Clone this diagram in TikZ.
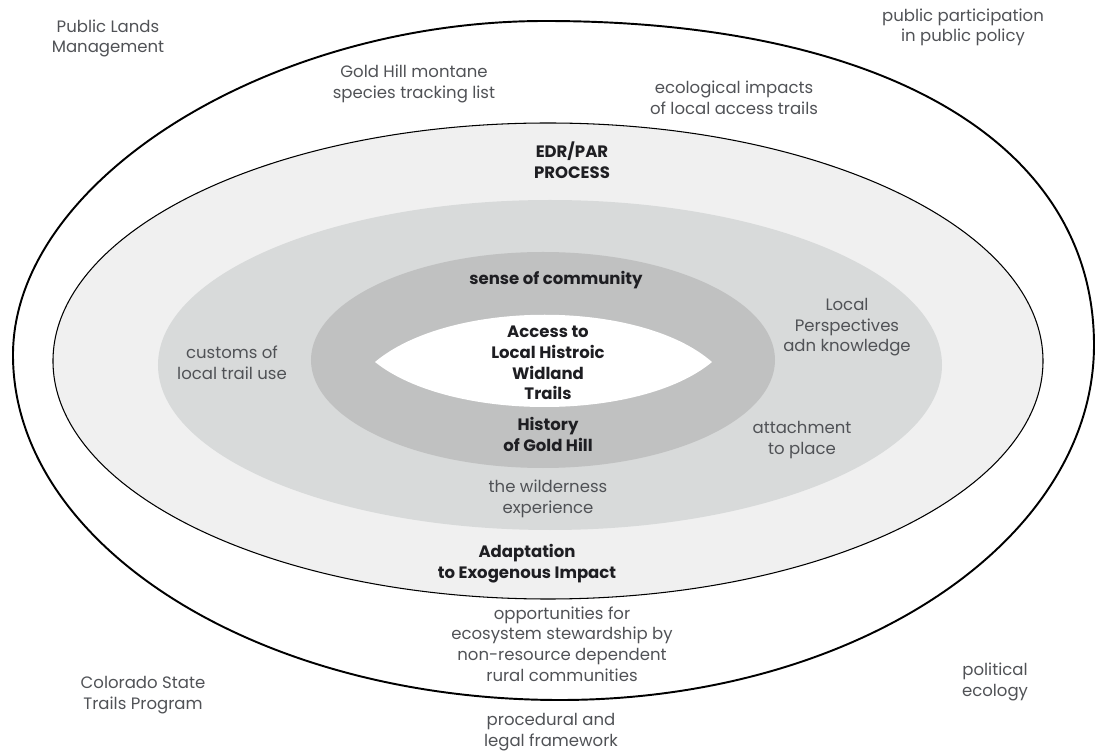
\documentclass[tikz,border=0pt]{standalone}
\usepackage{fontspec}
\setmainfont{Poppins}
\definecolor{ringpale}{RGB}{240, 240, 240}
\definecolor{ringmid}{RGB}{216, 218, 218}
\definecolor{ringdark}{RGB}{192, 193, 193}
\definecolor{labelgray}{RGB}{80, 82, 86}
\definecolor{labeldark}{RGB}{30, 30, 34}
\usetikzlibrary{positioning}
\newcommand{\ringfont}{\fontsize{9.4}{11.7}\selectfont}

\begin{document}
\begin{tikzpicture}[
  lbl/.style={align=center, inner sep=1pt, font=\ringfont, text=labelgray},
  key/.style={align=center, inner sep=1pt, font=\ringfont\bfseries, text=labeldark}
]
  \useasboundingbox (-10.96, -7.86) rectangle (10.98, 7.24);

  % Outer boundary, a bit fuller on the upper right
  \draw[line width=1.1pt] (-10.7, 0.14)
    .. controls (-10.7, 3.62) and (-5.59, 6.82) .. (-0.06, 6.82)
    .. controls (6.75, 6.82) and (10.92, 4.36) .. (10.92, 0.34)
    .. controls (10.92, -3.58) and (6.14, -6.76) .. (0.24, -6.76)
    .. controls (-5.8, -6.76) and (-10.7, -3.67) .. (-10.7, 0.14) -- cycle;

  % Rings, outside in
  \draw[line width=0.6pt, fill=ringpale] (0, 0.02) ellipse [x radius=9.9, y radius=4.76];
  \fill[ringmid] (0.04, -0.06) ellipse [x radius=7.84, y radius=3.3];
  \fill[ringdark] (-0.1, 0.04) ellipse [x radius=4.64, y radius=2.16];
  \fill[white] (-3.46, 0) .. controls (-1.96, 1.26) and (1.84, 1.26) .. (3.28, 0)
    .. controls (1.84, -1.2) and (-1.96, -1.2) .. (-3.46, 0) -- cycle;

  % Core
  \node[key] (access) at (0, -0.02) {Access to\\Local Histroic\\Widland\\Trails};
  \node[key] (history) at (0, -1.45) {History\\of Gold Hill};
  \node[key] (community) at (0.16, 1.64) {sense of community};

  % Middle ring
  \node[lbl] (customs) at (-6.32, -0.01) {customs of\\local trail use};
  \node[lbl] (perspect) at (5.98, 0.69) {Local\\Perspectives\\adn knowledge};
  \node[lbl] (attach) at (5.08, -1.56) {attachment\\to place};
  \node[lbl] (wild) at (0, -2.74) {the wilderness\\experience};

  % Process ring
  \node[key] (edr) at (0.48, 4.04) {EDR/PAR\\PROCESS};
  \node[key] (adapt) at (-0.42, -4.03) {Adaptation\\to Exogenous Impact};

  % Between the outer lines
  \node[lbl] (species) at (-2.68, 5.56) {Gold Hill montane\\species tracking list};
  \node[lbl] (ecoimp) at (3.72, 5.28) {ecological impacts\\of local access trails};
  \node[lbl] (steward) at (0.28, -5.64) {opportunities for\\ecosystem stewardship by\\non-resource dependent\\rural communities};

  % Outside
  \node[lbl] (publands) at (-8.8, 6.47) {Public Lands\\Management};
  \node[lbl] (pubpart) at (8.3, 6.69) {public participation\\in public policy};
  \node[lbl] (cstp) at (-8.1, -6.66) {Colorado State\\Trails Program};
  \node[lbl] (polec) at (8.94, -6.4) {political\\ecology};
  \node[lbl] (legal) at (0.06, -7.4) {procedural and\\legal framework};
\end{tikzpicture}
\end{document}
